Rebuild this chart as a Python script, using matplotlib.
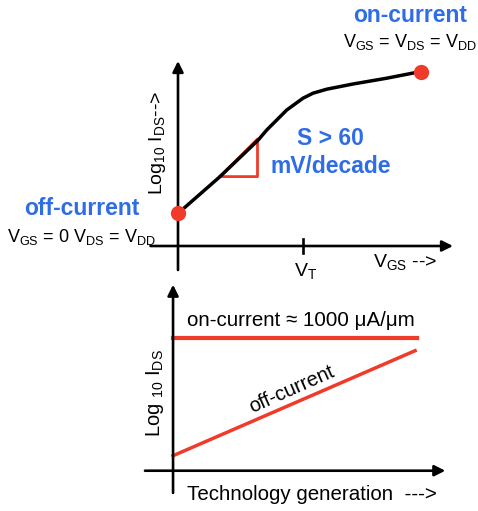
import matplotlib
matplotlib.use("Agg")
import matplotlib.pyplot as plt

plt.rcParams['font.family'] = ['Liberation Sans', 'DejaVu Sans']
plt.rcParams['mathtext.fontset'] = 'custom'
plt.rcParams['mathtext.rm'] = 'Liberation Sans'
plt.rcParams['mathtext.it'] = 'Liberation Sans:italic'
plt.rcParams['mathtext.bf'] = 'Liberation Sans:bold'

# ---- data: top panel (VGS in units of VT, log10 IDS arbitrary units)
vgs = [0.0, 0.336, 0.642, 0.71, 0.87, 1.00, 1.08, 1.19, 1.40, 1.67, 1.94]
log_ids = [1.63, 3.47, 5.30, 5.8, 6.8, 7.39, 7.64, 7.84, 8.10, 8.39, 8.72]
vt = 1.0
tri_x = [0.336, 0.636, 0.636, 0.336]
tri_y = [3.47, 5.35, 3.47, 3.47]

# ---- data: bottom panel (technology generation, log10 IDS)
gen = [0.0, 1.0]
on_current = [4.43, 4.43]
off_current = [0.5, 4.0]

BLUE = '#2f6de6'
RED = '#f03a2a'

fig = plt.figure(figsize=(4.78, 5.11), dpi=100)

# ---------------- top panel
ax1 = fig.add_axes([0, 1 - 280 / 511, 1, 280 / 511])
ax1.set_xlim(-1.424, 2.4)
ax1.set_ylim(-1.7, 12.3)
ax1.axis('off')

arrow = dict(arrowstyle='-|>', lw=1.9, color='black', mutation_scale=16,
             shrinkA=0, shrinkB=0)
ax1.annotate('', xy=(0, 9.25), xytext=(0, -1.2), arrowprops=arrow)
ax1.annotate('', xy=(2.2, 0), xytext=(-0.22, 0), arrowprops=arrow)
ax1.plot([vt, vt], [-0.35, 0.35], color='black', lw=1.9)

ax1.plot(vgs, log_ids, color='black', lw=2.5, solid_capstyle='round',
         solid_joinstyle='round', zorder=3)
ax1.plot(tri_x, tri_y, color=RED, lw=2.0, zorder=2)
ax1.plot([vgs[0], vgs[-1]], [log_ids[0], log_ids[-1]], 'o', color=RED,
         ms=11, zorder=4, markeredgewidth=0)

ax1.text(1.22, 5.4, 'S > 60', color=BLUE, fontsize=16.5, fontweight='bold',
         ha='center', va='center')
ax1.text(1.225, 4.0, 'mV/decade', color=BLUE, fontsize=16.5, fontweight='bold',
         ha='center', va='center')
ax1.text(1.856, 11.55, 'on-current', color=BLUE, fontsize=16.5,
         fontweight='bold', ha='center', va='center')
ax1.text(1.856, 10.2,
         r'$\mathrm{V_{GS}}$ = $\mathrm{V_{DS}}$ = $\mathrm{V_{DD}}$',
         color='black', fontsize=13, ha='center', va='center')
ax1.text(-0.77, 1.9, 'off-current', color=BLUE, fontsize=16.5,
         fontweight='bold', ha='center', va='center')
ax1.text(-0.77, 0.45,
         r'$\mathrm{V_{GS}}$ = 0 $\mathrm{V_{DS}}$ = $\mathrm{V_{DD}}$',
         color='black', fontsize=13, ha='center', va='center')
ax1.text(vt + 0.02, -1.25, r'$\mathrm{V_T}$', fontsize=14,
         ha='center', va='center')
ax1.text(1.82, -0.8, r'$\mathrm{V_{GS}}$ -->', fontsize=14,
         ha='center', va='center')
ax1.text(-0.165, 5.15, r'Log$\mathrm{_{10}}$ I$\mathrm{_{DS}}$-->', fontsize=14,
         rotation=90, ha='center', va='center')

# ---------------- bottom panel
ax2 = fig.add_axes([0, 0, 1, 231 / 511])
ax2.set_xlim(-0.715, 1.26)
ax2.set_ylim(-1.343, 6.357)
ax2.axis('off')

ax2.annotate('', xy=(0, 6.2), xytext=(0, -0.74), arrowprops=arrow)
ax2.annotate('', xy=(1.125, 0), xytext=(-0.116, 0), arrowprops=arrow)

ax2.plot([gen[0], gen[1] + 0.007], on_current, color=RED, lw=3)
ax2.plot(gen, off_current, color=RED, lw=2.5)

ax2.text(0.527, 5.0, 'on-current \u2248 1000 \u03bcA/\u03bcm', fontsize=14.8,
         ha='center', va='center')
ax2.text(0.49, 2.7, 'off-current', fontsize=14.5, rotation=24,
         ha='center', va='center')
ax2.text(0.573, -0.8, 'Technology generation  --->', fontsize=14.8,
         ha='center', va='center')
ax2.text(-0.074, 2.59, r'Log $\mathrm{_{10}}$ I$\mathrm{_{DS}}$', fontsize=14.5,
         rotation=90, ha='center', va='center')

fig.savefig('out.png', dpi=100)
